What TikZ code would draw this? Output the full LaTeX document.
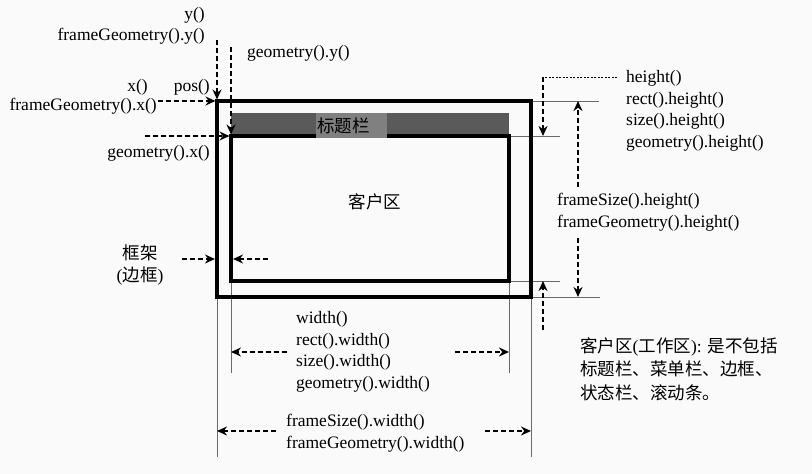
\documentclass[tikz,border=0pt]{standalone}
\usepackage{fontspec}
\setmainfont{Liberation Serif}
\newfontfamily\cjkfont{Noto Sans CJK SC}
\newcommand{\zhtext}[1]{{\cjkfont #1}}
\usepackage{tikz}
\usetikzlibrary{arrows.meta}
\definecolor{PageBg}{RGB}{250,250,250}
\definecolor{TitleBarDark}{RGB}{90,90,90}
\definecolor{TitleLabelGray}{RGB}{128,128,128}
\definecolor{GuideGray}{RGB}{105,105,105}

\begin{document}
\begin{tikzpicture}[x=1pt,y=-1pt,>={Stealth[length=10pt,width=9pt]},
  font=\fontsize{17.5}{21.5}\selectfont,
  dimarrow/.style={->,line width=1.6pt,dash pattern=on 5pt off 3pt},
  guide/.style={GuideGray,line width=1pt},
  winline/.style={line width=3.4pt},
  tagtext/.style={inner sep=0pt,align=left}]
  \useasboundingbox[fill=PageBg] (0,0) rectangle (812,474);
  \coordinate (FrameNW) at (217,101);
  \coordinate (FrameSE) at (531,297);
  \coordinate (ClientNW) at (231,136);
  \coordinate (ClientSE) at (509,281);

  \draw[guide] (217,297) -- (217,457);
  \draw[guide] (531,297) -- (531,457);
  \draw[guide] (231,281) -- (231,373);
  \draw[guide] (509,281) -- (509,373);
  \draw[guide] (531,101) -- (599,101);
  \draw[guide] (509,136) -- (560,136);
  \draw[guide] (509,281) -- (560,281);
  \draw[guide] (531,297) -- (600,297);

  \fill[TitleBarDark] (231,113) rectangle (509,136);
  \draw[winline] (FrameNW) rectangle (FrameSE);
  \draw[winline] (ClientNW) rectangle (ClientSE);
  \node[fill=TitleLabelGray,inner xsep=1pt,inner ysep=0pt,minimum height=25pt,text width=69pt] (TitleBar) at (351.5,125.5) {\zhtext{标题栏}};
  \node (ClientArea) at (375,202) {\zhtext{客户区}};

  \node[tagtext,anchor=east,align=right] (yTag) at (205,26) {y()\\frameGeometry().y()};
  \node[tagtext,anchor=west] (geoYTag) at (247,53) {geometry().y()};
  \node[tagtext,anchor=east] (xTag) at (148,87) {x()};
  \node[tagtext,anchor=east] (posTag) at (210,87) {pos()};
  \node[tagtext,anchor=east] (frameXTag) at (157,106) {frameGeometry().x()};
  \node[tagtext,anchor=east] (geoXTag) at (210,153) {geometry().x()};
  \node[tagtext,align=center] (borderTag) at (140,265) {\zhtext{框架}\\(\zhtext{边框})};
  \node[tagtext,anchor=west] (heightTag) at (626,111) {height()\\rect().height()\\size().height()\\geometry().height()};
  \node[tagtext,anchor=west] (frameHTag) at (557,212) {frameSize().height()\\frameGeometry().height()};
  \node[tagtext,anchor=west] (widthTag) at (296,352) {width()\\rect().width()\\size().width()\\geometry().width()};
  \node[tagtext,anchor=west] (frameWTag) at (286,433) {frameSize().width()\\frameGeometry().width()};
  \node[tagtext,anchor=west,font=\fontsize{17.5}{23.5}\selectfont] (noteTag) at (580,369)
    {\zhtext{客户区}(\zhtext{工作区}): \zhtext{是不包括}\\\zhtext{标题栏、菜单栏、边框、}\\\zhtext{状态栏、滚动条。}};

  \coordinate (yFrom) at (217,40);
  \coordinate (geoYFrom) at (231,47);
  \coordinate (xFrom) at (158,101);
  \coordinate (geoXFrom) at (145,136);
  \coordinate (borderOutFrom) at (182,259);
  \coordinate (borderOutTo) at (217,259);
  \coordinate (borderInFrom) at (268,259);
  \coordinate (borderInTo) at (231,259);
  \coordinate (widthLFrom) at (287,352);
  \coordinate (widthLTo) at (231,352);
  \coordinate (widthRFrom) at (455,352);
  \coordinate (widthRTo) at (509,352);
  \coordinate (frameWLFrom) at (276,431);
  \coordinate (frameWLTo) at (217,431);
  \coordinate (frameWRFrom) at (485,431);
  \coordinate (frameWRTo) at (531,431);
  \coordinate (frameHUFrom) at (578,187);
  \coordinate (frameHUTo) at (578,101);
  \coordinate (frameHDFrom) at (578,238);
  \coordinate (frameHDTo) at (578,297);
  \coordinate (heightStart) at (617,77);
  \coordinate (heightCorner) at (543,77);
  \coordinate (heightTo) at (543,136);
  \coordinate (heightUpFrom) at (543,330);
  \coordinate (heightUpTo) at (543,281);

  \draw[dimarrow,shorten >=1.5pt] (yFrom) -- (FrameNW);
  \draw[dimarrow,shorten >=1.5pt] (geoYFrom) -- (ClientNW);
  \draw[dimarrow,shorten >=1.5pt] (xFrom) -- (FrameNW);
  \draw[dimarrow,shorten >=1.5pt] (geoXFrom) -- (ClientNW);
  \draw[dimarrow,shorten >=2pt] (borderOutFrom) -- (borderOutTo);
  \draw[dimarrow,shorten >=2pt] (borderInFrom) -- (borderInTo);
  \draw[dimarrow] (widthLFrom) -- (widthLTo);
  \draw[dimarrow] (widthRFrom) -- (widthRTo);
  \draw[dimarrow] (frameWLFrom) -- (frameWLTo);
  \draw[dimarrow] (frameWRFrom) -- (frameWRTo);
  \draw[dimarrow] (frameHUFrom) -- (frameHUTo);
  \draw[dimarrow] (frameHDFrom) -- (frameHDTo);
  \draw[line width=0.8pt,dash pattern=on 2pt off 1.5pt] (heightStart) -- (heightCorner);
  \draw[dimarrow] (heightCorner) -- (heightTo);
  \draw[dimarrow] (heightUpFrom) -- (heightUpTo);
\end{tikzpicture}
\end{document}
